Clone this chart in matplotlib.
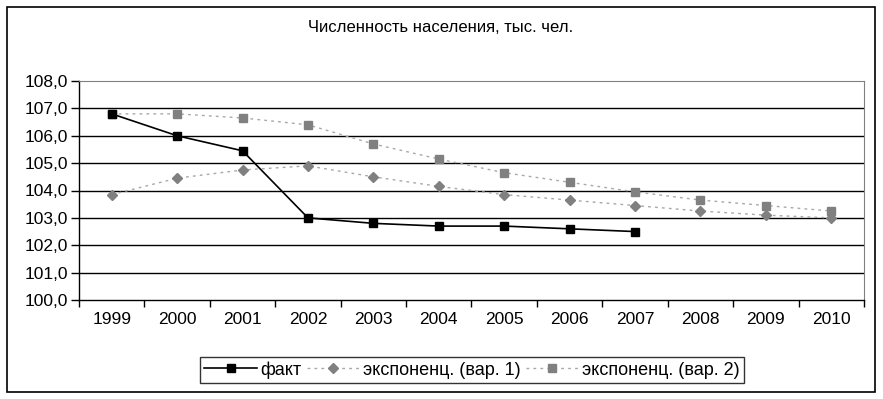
import numpy as np
import matplotlib.pyplot as plt
from matplotlib.patches import Rectangle

plt.rcParams['font.family'] = ['Liberation Sans', 'DejaVu Sans']

years = ['1999', '2000', '2001', '2002', '2003', '2004', '2005', '2006', '2007', '2008', '2009', '2010']
fact = [106.8, 106.0, 105.45, 103.0, 102.8, 102.7, 102.7, 102.6, 102.5]
var1 = [103.85, 104.45, 104.75, 104.9, 104.5, 104.15, 103.85, 103.65, 103.45, 103.25, 103.1, 103.0]
var2 = [106.8, 106.8, 106.65, 106.4, 105.7, 105.15, 104.65, 104.3, 103.95, 103.65, 103.45, 103.25]
y_ticks = [100, 101, 102, 103, 104, 105, 106, 107, 108]

fig = plt.figure(figsize=(8.83, 3.99), dpi=100)
# outer chart border
fig.patches.append(Rectangle((7 / 883, 1 - 392 / 399), 868 / 883, 385 / 399,
                             transform=fig.transFigure, fill=False, edgecolor='black', linewidth=1.2))

ax = fig.add_axes([79 / 883, 1 - 300 / 399, 785 / 883, 219 / 399])
x = np.arange(len(years))

for yv in y_ticks[1:-1]:
    ax.axhline(yv, color='black', linewidth=1, zorder=1)

ax.plot(x, var1, color='#a8a8a8', linestyle=(0, (2, 3)), linewidth=1,
        marker='D', markersize=5.5, markerfacecolor='#808080', markeredgecolor='#808080',
        label='экспоненц. (вар. 1)', zorder=3)
ax.plot(x, var2, color='#a8a8a8', linestyle=(0, (2, 3)), linewidth=1,
        marker='s', markersize=6, markerfacecolor='#808080', markeredgecolor='#808080',
        label='экспоненц. (вар. 2)', zorder=3)
ax.plot(x[:len(fact)], fact, color='black', linewidth=1.2,
        marker='s', markersize=6, markerfacecolor='black', markeredgecolor='black',
        label='факт', zorder=4)

ax.set_xlim(-0.5, len(years) - 0.5)
ax.set_ylim(100, 108)
ax.set_yticks(y_ticks)
ax.set_yticklabels([f'{v:.1f}'.replace('.', ',') for v in y_ticks], fontsize=12.5)
ax.set_xticks(np.arange(-0.5, len(years), 1.0))
ax.set_xticklabels([])
ax.set_xticks(x, minor=True)
ax.set_xticklabels(years, minor=True, fontsize=12.5)
ax.tick_params(axis='x', which='major', direction='out', length=5, width=1)
ax.tick_params(axis='x', which='minor', length=0, pad=9)
ax.tick_params(axis='y', direction='out', length=6, width=1, pad=2)

ax.spines['top'].set_color('#808080')
ax.spines['right'].set_color('#808080')
ax.spines['left'].set_linewidth(1)
ax.spines['bottom'].set_linewidth(1)

fig.text(441 / 883, 1 - 28 / 399, 'Численность населения, тыс. чел.', ha='center', va='center', fontsize=12)

handles, labels = ax.get_legend_handles_labels()
order = [2, 0, 1]
leg = fig.legend([handles[i] for i in order], [labels[i] for i in order],
                 loc='center', bbox_to_anchor=(472 / 883, 1 - 370 / 399), ncol=3,
                 fontsize=13, frameon=True, fancybox=False, edgecolor='black',
                 handlelength=2.9, handletextpad=0.2, columnspacing=0.3,
                 borderpad=0.25, borderaxespad=0, markerscale=0.9)
leg.get_frame().set_linewidth(1)

fig.savefig('out.png', dpi=100)
